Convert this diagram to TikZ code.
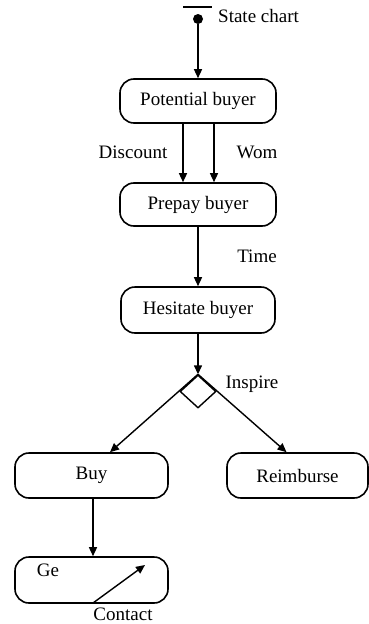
\documentclass[tikz,border=0pt]{standalone}
\usepackage{fontspec}
\setmainfont{Liberation Serif}
\usetikzlibrary{arrows.meta,shapes.geometric,calc}
\begin{document}
\begin{tikzpicture}[x=1pt,y=-1pt,
  state/.style={draw,line width=1.6pt,rounded corners=14pt,inner sep=0pt,font=\fontsize{19}{21}\selectfont},
  lbl/.style={font=\fontsize{19}{21}\selectfont,inner sep=0pt},
  arr/.style={line width=1.4pt,-{Triangle[length=9pt,width=8pt]}},
  ln/.style={line width=1.4pt}]
\useasboundingbox (0,0) rectangle (369,624);
% start
\coordinate (barL) at (183,7);
\coordinate (barR) at (212,7);
\draw[line width=1.8pt] (barL) -- (barR);
\node[circle,fill,inner sep=0pt,minimum size=10pt] (start) at (198,19) {};
\node[lbl,anchor=west] (sc) at (218,16) {State chart};
% states
\node[state,minimum width=156pt,minimum height=44pt] (pot) at (198,101) {Potential buyer};
\node[state,minimum width=156pt,minimum height=43pt] (pre) at (198,204.5) {Prepay buyer};
\node[state,minimum width=154pt,minimum height=46pt] (hes) at (198,310) {Hesitate buyer};
\node[state,minimum width=153pt,minimum height=45pt] (buy) at (91.5,475.5) {Buy};
\node[state,minimum width=141pt,minimum height=45pt] (rei) at (297.5,475.5) {Reimburse};
\node[state,minimum width=153pt,minimum height=46pt] (ge) at (91.5,580) {};
\node[diamond,draw,line width=1.4pt,inner sep=0pt,minimum width=36pt,minimum height=33pt] (dia) at (198,391.5) {};
% connectors
\draw[arr] (start) -- (pot.north);
\draw[arr] ($(pot.south)+(-15,0)$) -- ($(pre.north)+(-15,0)$);
\draw[arr] ($(pot.south)+(16,0)$) -- ($(pre.north)+(16,0)$);
\node[lbl] (disc) at (133,152) {Discount};
\node[lbl] (wom) at (257,152) {Wom};
\draw[arr] (pre.south) -- (hes.north);
\node[lbl] (time) at (257,256) {Time};
\draw[arr] (hes.south) -- (dia.north);
\node[lbl] (insp) at (252,384) {Inspire};
\coordinate (buyin) at ($(buy.north)+(18.5,0)$);
\coordinate (reiin) at ($(rei.north)+(-11,0)$);
\draw[arr] (dia.north) -- (buyin);
\draw[arr] (dia.north) -- (reiin);
\draw[arr] ($(buy.south)+(1.5,0)$) -- ($(ge.north)+(1.5,0)$);
% inside Ge
\node[lbl] (getxt) at (48,570) {Ge};
\coordinate (ctA) at (93,603);
\coordinate (ctB) at (145,565);
\draw[arr] (ctA) -- (ctB);
\node[lbl] (contact) at (123,614) {Contact};
\end{tikzpicture}
\end{document}
